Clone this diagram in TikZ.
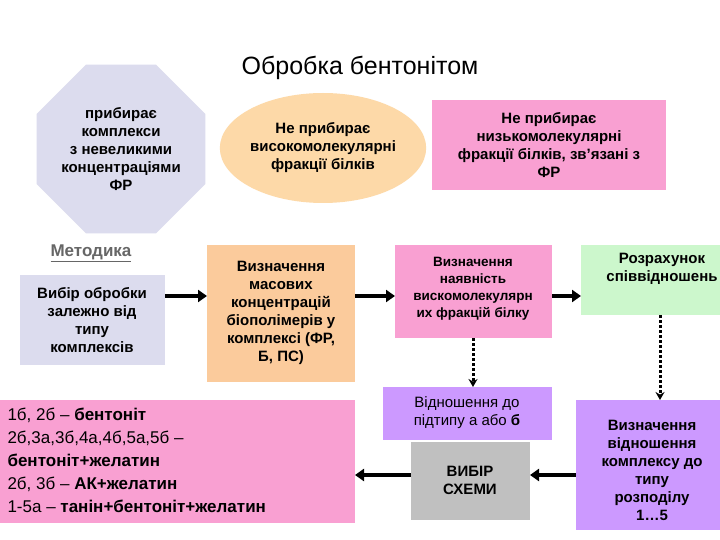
\documentclass[tikz,border=0pt]{standalone}
\usepackage{fontspec}
\setmainfont{Liberation Sans}
\usetikzlibrary{shapes.geometric,arrows.meta}
\definecolor{lav}{HTML}{DCDCEE}
\definecolor{peach}{HTML}{FDD9A8}
\definecolor{peach2}{HTML}{FBCB9C}
\definecolor{pnk}{HTML}{F9A0D2}
\definecolor{grn}{HTML}{CCF7CC}
\definecolor{prp}{HTML}{CC99FF}
\definecolor{gry}{HTML}{C0C0C0}
\begin{document}
\begin{tikzpicture}[x=1pt,y=-1pt,
  txt/.style={font=\fontsize{15}{18}\selectfont\bfseries,align=center},
  bx/.style={draw=none,inner sep=0pt},
  thick arrow/.style={line width=3.5pt,-{Triangle[length=9pt,width=12pt]}},
  dot arrow/.style={line width=3pt,dotted,-{Stealth[length=8pt,width=9pt]}}]
\useasboundingbox (0,0) rectangle (720,540);
\fill[white] (0,0) rectangle (720,540);
\node (title) at (360,68) {\fontsize{25}{30}\selectfont Обробка бентонітом};
% top row
\node[regular polygon,regular polygon sides=8,minimum size=150pt,fill=lav,inner sep=0pt,txt] (oct) at (121,149) {прибирає\\комплекси\\з невеликими\\концентраціями\\ФР};
\node[ellipse,fill=peach,minimum width=190pt,minimum height=110pt,inner sep=0pt,txt] (ell) at (323,148) {Не прибирає\\високомолекулярні\\фракції білків};
\fill[pnk] (432,100) rectangle (666,190);
\node[txt] (tr) at (549,145) {Не прибирає\\низькомолекулярні\\фракції білків, зв'язані з\\ФР};
% methodology
\node[font=\fontsize{17}{20}\selectfont\bfseries,text=gray!80!black] (met) at (91,253) {\underline{Методика}};
\fill[lav] (20,275) rectangle (165,365); \coordinate (lavR) at (165,296);
\node[txt] (lavt) at (92,320) {Вибір обробки\\залежно від\\типу\\комплексів};
\fill[peach2] (207,245) rectangle (355,382);
\coordinate (peL) at (207,296); \coordinate (peR) at (355,296);
\node[txt] (pet) at (281,313) {Визначення\\масових\\концентрацій\\біополімерів у\\комплексі (ФР,\\Б, ПС)};
\fill[pnk] (395,245) rectangle (552,338);
\coordinate (piL) at (395,296); \coordinate (piR) at (552,296); \coordinate (piB) at (473,338);
\node[txt,font=\fontsize{13.5}{17}\selectfont\bfseries] (pit) at (473,289) {Визначення\\наявність\\вискомолекулярн\\их фракцій білку};
\fill[grn] (581,245) rectangle (720,315);
\coordinate (grL) at (581,296); \coordinate (grB) at (660,315);
\begin{scope}
\clip (581,245) rectangle (720,315);
\node[txt] (grt) at (662,269) {Розрахунок\\співвідношень};
\end{scope}
% lower
\fill[prp] (383,387) rectangle (552,440); \coordinate (puT) at (473,387);
\node[txt,font=\fontsize{15}{18}\selectfont] (put) at (467,413) {Відношення до\\підтипу а або \textbf{б}};
\fill[gry] (411,442) rectangle (530,520);
\coordinate (gyL) at (411,475); \coordinate (gyR) at (530,475);
\node[txt] (gyt) at (470,480) {ВИБІР\\СХЕМИ};
\fill[prp] (576,400) rectangle (720,530);
\coordinate (rpT) at (660,400); \coordinate (rpL) at (576,475);
\node[txt] (rpt) at (652,470) {Визначення\\відношення\\комплексу до\\типу\\розподілу\\1…5};
\fill[pnk] (0,400) rectangle (355,523); \coordinate (bpR) at (355,475);
\node[font=\fontsize{17}{23}\selectfont,align=left,anchor=north west] (bpt) at (4,404) {1б, 2б – \textbf{бентоніт}\\2б,3а,3б,4а,4б,5а,5б –\\\textbf{бентоніт+желатин}\\2б, 3б – \textbf{АК+желатин}\\1-5а – \textbf{танін+бентоніт+желатин}};
% arrows
\draw[thick arrow] (lavR) -- (peL);
\draw[thick arrow] (peR) -- (piL);
\draw[thick arrow] (piR) -- (grL);
\draw[dot arrow] (piB) -- (puT);
\draw[dot arrow] (grB) -- (rpT);
\draw[thick arrow] (rpL) -- (gyR);
\draw[thick arrow] (gyL) -- (bpR);
\end{tikzpicture}
\end{document}
